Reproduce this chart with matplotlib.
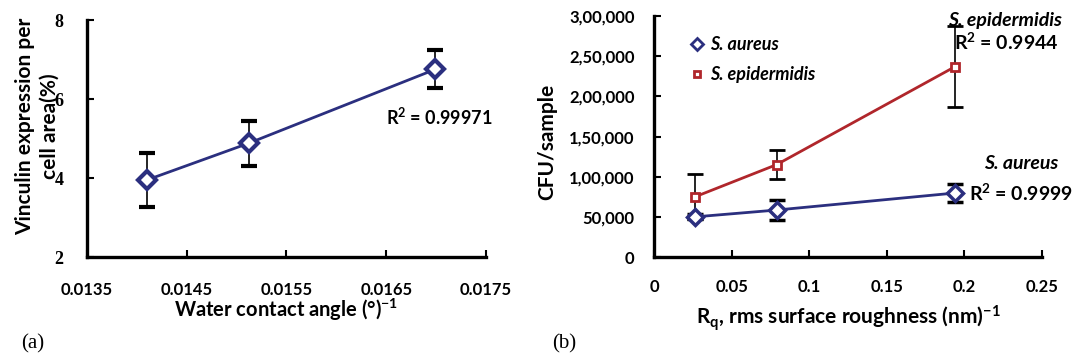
import numpy as np
import matplotlib.pyplot as plt
from matplotlib.lines import Line2D

plt.rcParams['font.family'] = ['Lato', 'DejaVu Sans']
plt.rcParams['font.weight'] = 'bold'
plt.rcParams['axes.labelweight'] = 'bold'
plt.rcParams['mathtext.fontset'] = 'custom'
plt.rcParams['mathtext.rm'] = 'Lato:bold'
plt.rcParams['mathtext.it'] = 'Lato:italic:bold'
plt.rcParams['mathtext.bf'] = 'Lato:bold'
plt.rcParams['mathtext.default'] = 'rm'

# panel (a): vinculin vs inverse water contact angle
wca_inv = [0.01410, 0.01512, 0.01699]
vinculin = [3.95, 4.88, 6.75]
vinculin_err = [0.68, 0.57, 0.48]

# panel (b): CFU vs inverse roughness
rq_inv = [0.0265, 0.079, 0.194]
aureus = [50000, 58500, 79700]
aureus_err = [3000, 12500, 11500]
epider = [75000, 115000, 237000]
epider_err = [28000, 18000, 50000]
cfu_ticks = [0, 50000, 100000, 150000, 200000, 250000, 300000]
cfu_labels = ["0", "50,000", "1,00,000", "1,50,000", "2,00,000", "2,50,000", "3,00,000"]

navy = "#2b2f7f"
red = "#b0262b"

fig = plt.figure(figsize=(10.73, 3.61), dpi=100)
ax1 = fig.add_axes([0.0811, 0.288, 0.3718, 0.6565])
ax2 = fig.add_axes([0.6095, 0.288, 0.3616, 0.6676])

for ax in (ax1, ax2):
    for s in ("top", "right"):
        ax.spines[s].set_visible(False)
    for s in ("left", "bottom"):
        ax.spines[s].set_linewidth(2.4)
    ax.tick_params(direction="in", length=5, width=1.5, labelsize=12)

# (a)
ax1.errorbar(wca_inv, vinculin, yerr=vinculin_err, color=navy, lw=2,
             marker="D", ms=9, mfc="white", mec=navy, mew=3,
             ecolor="black", elinewidth=1.2, capsize=5.5, capthick=1.2)
ax1.set_xlim(0.0135, 0.0175)
ax1.set_ylim(2, 8)
ax1.set_xticks([0.0135, 0.0145, 0.0155, 0.0165, 0.0175])
ax1.set_xticklabels(["0.0135", "0.0145", "0.0155", "0.0165", "0.0175"], weight="bold")
ax1.set_yticks([2, 4, 6, 8])
ax1.set_yticklabels(["2", "4", "6", "8"], family="Liberation Serif", fontsize=13, weight="bold")
ax1.tick_params(axis="x", pad=18)
ax1.tick_params(axis="y", pad=17)
ax1.set_xlabel("Water contact angle (°)$^{-1}$", fontsize=14.5, labelpad=-1)
ax1.set_ylabel("Vinculin expression per\ncell area(%)", fontsize=15,
               linespacing=1.3, va="center")
ax1.yaxis.set_label_coords(-0.125, 0.553)
ax1.text(0.01650, 5.55, "R$^2$ = 0.99971", fontsize=13, va="center")

# (b)
ax2.errorbar(rq_inv, epider, yerr=epider_err, color=red, lw=2,
             marker="s", ms=5.5, mfc="white", mec=red, mew=2,
             ecolor="black", elinewidth=1.2, capsize=5.5, capthick=1.2)
ax2.errorbar(rq_inv, aureus, yerr=aureus_err, color=navy, lw=2,
             marker="D", ms=8, mfc="white", mec=navy, mew=2.5,
             ecolor="black", elinewidth=1.2, capsize=5.5, capthick=1.2)
ax2.set_xlim(0, 0.25)
ax2.set_ylim(0, 300000)
ax2.set_xticks([0, 0.05, 0.1, 0.15, 0.2, 0.25])
ax2.set_xticklabels(["0", "0.05", "0.1", "0.15", "0.2", "0.25"], weight="bold")
ax2.set_yticks(cfu_ticks)
ax2.set_yticklabels(cfu_labels, weight="bold")
ax2.tick_params(axis="x", pad=16)
ax2.tick_params(axis="y", pad=14)
ax2.set_xlabel("R$_q$, rms surface roughness (nm)$^{-1}$", fontsize=15, labelpad=6)
ax2.set_ylabel("CFU/sample", fontsize=15, va="center")
ax2.yaxis.set_label_coords(-0.276, 0.477)
handles = [Line2D([], [], ls="none", marker="D", ms=6, mfc="white", mec=navy, mew=2),
           Line2D([], [], ls="none", marker="s", ms=5, mfc="white", mec=red, mew=2)]
ax2.legend(handles, ["S. aureus", "S. epidermidis"], loc="upper left",
           bbox_to_anchor=(0.055, 0.985), frameon=False,
           prop={"style": "italic", "weight": "bold", "size": 13},
           handlelength=0.6, handletextpad=0.4, labelspacing=0.75)
ax2.text(0.2262, 295000, "S. epidermidis", fontsize=14, style="italic",
         ha="center", va="center")
ax2.text(0.2268, 267600, "R$^2$ = 0.9944", fontsize=14, ha="center", va="center")
ax2.text(0.2365, 117000, "S. aureus", fontsize=14, style="italic",
         ha="center", va="center")
ax2.text(0.2365, 79700, "R$^2$ = 0.9999", fontsize=14, ha="center", va="center")

fig.text(0.020, 0.035, "(a)", family="Liberation Serif", fontsize=15, weight="normal")
fig.text(0.515, 0.035, "(b)", family="Liberation Serif", fontsize=15, weight="normal")

fig.savefig("out.png", dpi=100)
